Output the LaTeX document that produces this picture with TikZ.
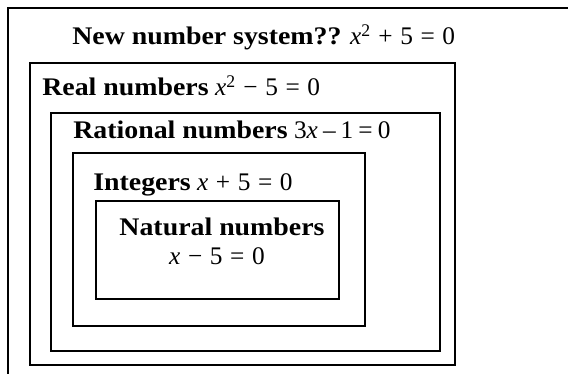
\documentclass[tikz,border=0pt]{standalone}
\usepackage{fontspec}
\setmainfont{Liberation Serif}[BoldFeatures={FakeStretch=1.1}]
\newcommand{\mx}{\textit{x}}
\newcommand{\mop}[1]{\hspace{0.3em}#1\hspace{0.3em}}
\begin{document}
\begin{tikzpicture}[x=0.75pt,y=-0.75pt,
  boxline/.style={draw=black,line width=1.3pt},
  lbl/.style={anchor=base west,inner sep=0pt,font=\fontsize{19}{23}\selectfont}]
\useasboundingbox (0,0) rectangle (568,374);
% outer frame (top and left only)
\coordinate (o1) at (8,374);
\coordinate (o2) at (8,8);
\coordinate (o3) at (568,8);
\draw[line width=1.5pt] (o1) -- (o2) -- (o3);
% nested boxes
\draw[boxline] (30,63) rectangle (455,365);
\draw[boxline] (51,113) rectangle (440,351);
\draw[boxline] (73,153) rectangle (365,326);
\draw[boxline] (96,201) rectangle (339,299);
% labels
\node[lbl] (tnew) at (72,45) {\textbf{New number system??} \mx\textsuperscript{2}\mop{+}5\mop{=}0};
\node[lbl] (treal) at (42,96) {\textbf{Real numbers} \mx\textsuperscript{2}\mop{−}5\mop{=}0};
\node[lbl] (trat) at (73,139) {\textbf{Rational numbers} 3\mx\hspace{0.2em}–\hspace{0.2em}1\hspace{0.2em}=\hspace{0.2em}0};
\node[lbl] (tint) at (93,191) {\textbf{Integers} \mx\mop{+}5\mop{=}0};
\node[lbl,anchor=base] (tnat) at (222,236) {\textbf{Natural numbers}};
\node[lbl,anchor=base] (teq) at (217,264) {\mx\mop{−}5\mop{=}0};
\end{tikzpicture}
\end{document}
